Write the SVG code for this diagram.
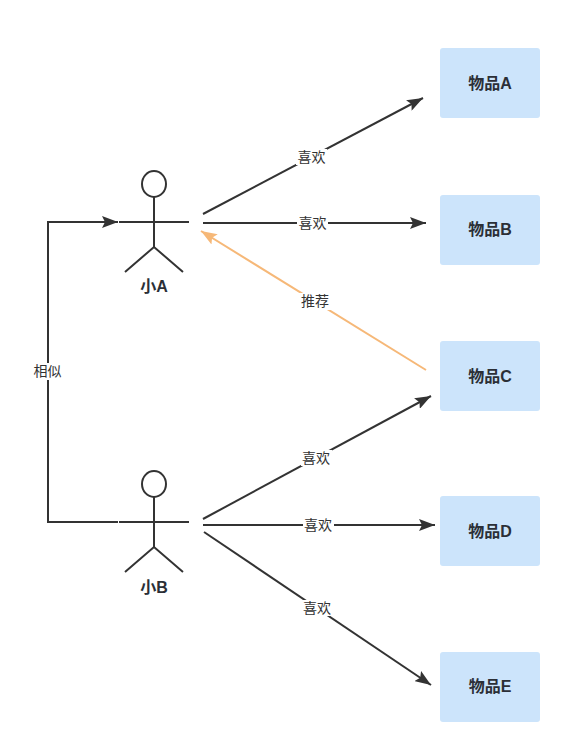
<svg xmlns="http://www.w3.org/2000/svg" width="572" height="738" viewBox="0 0 572 738">
<style>
text{font-family:"Liberation Sans","Noto Sans CJK SC",sans-serif;fill:#333;text-anchor:middle}
.box{fill:#cce4fb}
.nl{font-size:16px;font-weight:bold;fill:#2b2f36}
.al{font-size:14px;fill:#333}
.bg{fill:#fff}
.s{fill:none;stroke:#333;stroke-width:2}
.c{fill:none;stroke:#333;stroke-width:2}
.o{fill:none;stroke:#f6b878;stroke-width:2}
</style>
<defs>
<marker id="a" markerUnits="userSpaceOnUse" markerWidth="18" markerHeight="12" refX="16" refY="6" orient="auto"><path d="M0 0L16 6L0 12L3 6Z" fill="#333"/></marker>
<marker id="b" markerUnits="userSpaceOnUse" markerWidth="18" markerHeight="12" refX="16" refY="6" orient="auto"><path d="M0 0L16 6L0 12L3 6Z" fill="#f6b878"/></marker>
<g id="actor"><ellipse cx="154" cy="184" rx="12" ry="13" class="s"/><path class="s" d="M154 197V247M119 222H189M125 272L154 247L183 272"/></g>
</defs>
<rect width="572" height="738" fill="#fff"/>
<g id="connectors">
<path class="c" marker-end="url(#a)" d="M118 522H48V222H118"/>
<path class="c" marker-end="url(#a)" d="M203 214L423 98"/>
<path class="c" marker-end="url(#a)" d="M203 223H426"/>
<path class="o" marker-end="url(#b)" d="M426 370L201 231"/>
<path class="c" marker-end="url(#a)" d="M203 519L431 396"/>
<path class="c" marker-end="url(#a)" d="M203 525H435"/>
<path class="c" marker-end="url(#a)" d="M204 532L431 685"/>
<rect class="bg" x="296" y="149" width="31" height="16"/><text class="al" x="311.500" y="162">喜欢</text>
<rect class="bg" x="297" y="215" width="31" height="16"/><text class="al" x="312.500" y="228">喜欢</text>
<rect class="bg" x="299" y="293" width="32" height="17"/><text class="al" x="315" y="306">推荐</text>
<rect class="bg" x="301" y="450" width="31" height="16"/><text class="al" x="316" y="463">喜欢</text>
<rect class="bg" x="303" y="517" width="31" height="16"/><text class="al" x="318" y="530">喜欢</text>
<rect class="bg" x="302" y="600" width="31" height="16"/><text class="al" x="317" y="613">喜欢</text>
<rect class="bg" x="32" y="363" width="31" height="17"/><text class="al" x="47.500" y="376">相似</text>
</g>
<g id="userA"><use href="#actor"/><text class="nl" x="154" y="292">小A</text></g>
<g id="userB"><use href="#actor" y="300"/><text class="nl" x="154" y="593">小B</text></g>
<g id="itemA"><rect class="box" x="440" y="48" width="100" height="70" rx="3"/><text class="nl" x="490" y="89">物品A</text></g>
<g id="itemB"><rect class="box" x="440" y="195" width="100" height="70" rx="3"/><text class="nl" x="490" y="235">物品B</text></g>
<g id="itemC"><rect class="box" x="440" y="341" width="100" height="70" rx="3"/><text class="nl" x="490" y="382">物品C</text></g>
<g id="itemD"><rect class="box" x="440" y="496" width="100" height="70" rx="3"/><text class="nl" x="490" y="537">物品D</text></g>
<g id="itemE"><rect class="box" x="440" y="652" width="100" height="70" rx="3"/><text class="nl" x="490" y="692">物品E</text></g>
</svg>
